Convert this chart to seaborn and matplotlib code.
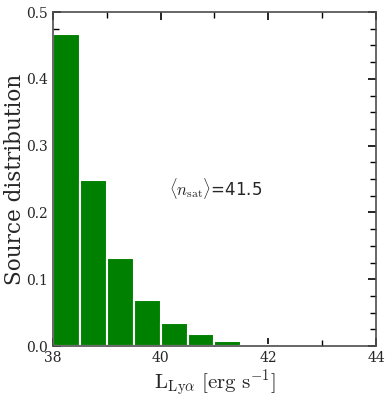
import numpy as np
import pandas as pd
import matplotlib
matplotlib.use("Agg")
import matplotlib.pyplot as plt
import seaborn as sns
from matplotlib.ticker import MultipleLocator

# histogram of luminosities, bin width 0.5 dex
bin_left = [38.0, 38.5, 39.0, 39.5, 40.0, 40.5, 41.0, 41.5]
fraction = [0.467, 0.248, 0.132, 0.069, 0.035, 0.0175, 0.007, 0.002]
n_sat_mean = 41.5

sns.set_style("ticks")
plt.rcParams["font.family"] = ["DejaVu Serif"]
plt.rcParams["mathtext.fontset"] = "cm"
plt.rcParams["xtick.minor.visible"] = True
plt.rcParams["ytick.minor.visible"] = True

df = pd.DataFrame({"L": np.array(bin_left) + 0.25, "frac": fraction})

fig = plt.figure(figsize=(3.91, 4.01), dpi=100)
ax = fig.add_axes([0.1355, 0.137, 0.826, 0.833])

sns.histplot(data=df, x="L", weights="frac", binwidth=0.5, binrange=(38, 42),
             stat="count", color="#008000", edgecolor="white", linewidth=1.5,
             alpha=1.0, ax=ax)

ax.set_xlim(38, 44)
ax.set_ylim(0, 0.5)
ax.set_xticks([38, 40, 42, 44])
ax.set_xticks([39, 41, 43], minor=True)
ax.set_yticks(np.arange(0, 0.51, 0.1))
ax.yaxis.set_minor_locator(MultipleLocator(0.025))
ax.tick_params(which="both", direction="in", top=True, right=True,
               bottom=True, left=True, labelsize=10, color="black")
ax.tick_params(which="major", length=6, width=1.2)
ax.tick_params(which="minor", length=4, width=1.0)
for sp in ax.spines.values():
    sp.set_color("0.3")
    sp.set_linewidth(1.2)
    sp.set_zorder(5)

ax.set_xlabel(r"$\mathrm{L_{Ly\alpha}\ [erg\ s^{-1}]}$", fontsize=15, labelpad=2)
ax.set_ylabel("Source distribution", fontsize=15.5, va="center")
ax.yaxis.set_label_coords(-0.118, 0.5)

ax.text(40.15, 0.236, r"$\langle n_{\rm sat}\rangle$" + f"={n_sat_mean}",
        fontsize=12, va="center", ha="left", family=["DejaVu Sans"])

fig.savefig("out.png", dpi=100)
